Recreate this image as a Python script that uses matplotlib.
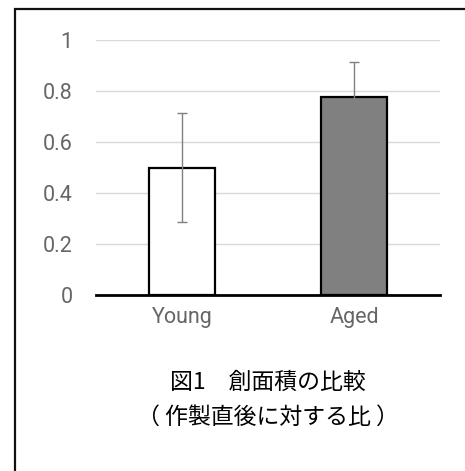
import matplotlib
matplotlib.use("Agg")
import matplotlib.pyplot as plt
from matplotlib.patches import Rectangle

plt.rcParams['font.family'] = ['Noto Sans CJK JP', 'DejaVu Sans']

groups = ["Young", "Aged"]
ratio = [0.50, 0.775]
err = [0.214, 0.14]
fills = ["white", "#808080"]
yticks = [0, 0.2, 0.4, 0.6, 0.8, 1]
ylabels = ["0", "0.2", "0.4", "0.6", "0.8", "1"]
title1 = "図1　創面積の比較"
title2 = "（ 作製直後に対する比 ）"

W, H = 465, 471
fig = plt.figure(figsize=(W / 100, H / 100), dpi=100)

# outer frame, cut off at right and bottom like the original
fig.add_artist(Rectangle((15 / W, -0.05), 1.0, (H - 9) / H + 0.05,
                         transform=fig.transFigure, fill=False,
                         edgecolor='#111111', linewidth=1.6))

ax = fig.add_axes([96 / W, (H - 295) / H, 344 / W, 255 / H])
x = range(len(groups))
ax.bar(x, ratio, width=0.38, color=fills, edgecolor='black', linewidth=1.6, zorder=3)
ax.errorbar(x, ratio, yerr=err, fmt='none', ecolor='#808080', elinewidth=1,
            capsize=3.5, capthick=1, zorder=4)

ax.set_xlim(-0.5, 1.5)
ax.set_ylim(0, 1)
ax.set_yticks(yticks)
ax.set_yticklabels(ylabels)
ax.set_xticks(list(x))
ax.set_xticklabels(groups)
ax.yaxis.grid(True, color='#d9d9d9', linewidth=1, zorder=0)
ax.axhline(0, color='black', linewidth=2, zorder=5, clip_on=False)
for s in ax.spines.values():
    s.set_visible(False)
ax.tick_params(axis='both', length=0, labelcolor='#666666', labelsize=15.5)
ax.tick_params(axis='y', pad=17)
ax.tick_params(axis='x', pad=9)
for lab in ax.get_xticklabels() + ax.get_yticklabels():
    lab.set_family(['Roboto', 'DejaVu Sans'])

fig.text(268 / W, 1 - 382 / H, title1, ha='center', va='center', fontsize=16.5, color='black')
fig.text(268 / W, 1 - 417 / H, title2, ha='center', va='center', fontsize=16.5, color='black')

fig.savefig("out.png", dpi=100)
